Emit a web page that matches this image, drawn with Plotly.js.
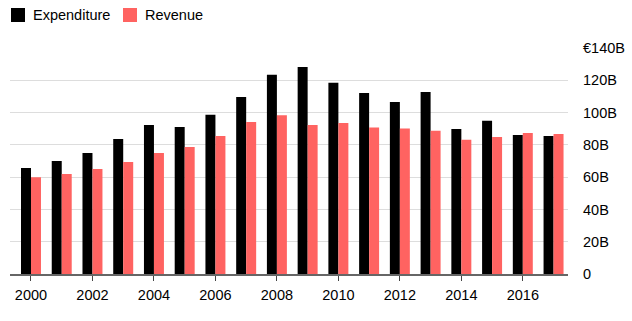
<!DOCTYPE html>
<html>
<head>
<meta charset="utf-8">
<script src="https://cdn.plot.ly/plotly-3.0.1.min.js"></script>
<style>html,body{margin:0;padding:0;background:#fff;}#chart{width:632px;height:321px;}</style>
</head>
<body>
<div id="chart"></div>
<script>
const years = [2000,2001,2002,2003,2004,2005,2006,2007,2008,2009,2010,2011,2012,2013,2014,2015,2016,2017];
const expenditure = [65.6,70.0,75.0,83.7,92.3,91.1,98.6,109.7,123.4,128.2,118.4,112.2,106.6,112.8,89.9,95.0,86.1,85.5];
const revenue = [60.0,61.9,65.0,69.4,75.0,78.7,85.5,94.2,98.3,92.3,93.6,90.7,90.1,88.8,83.2,84.9,87.4,86.8];
const yTickVals = [0,20,40,60,80,100,120,140];
const yTickText = ["0","20B","40B","60B","80B","100B","120B","€140B"];
const xTickVals = [2000,2002,2004,2006,2008,2010,2012,2014,2016];
const seriesNames = ["Expenditure","Revenue"];
const seriesColors = ["#000000","#ff6361"];

const W = 632, H = 321;
const M = {l:10, r:64, t:48, b:47};
const pw = W - M.l - M.r, ph = H - M.t - M.b;
const px2x = p => (p - M.l) / pw;
const py2y = p => (H - M.b - p) / ph;

const traces = [
  {type:'bar', name:seriesNames[0], x:years, y:expenditure, marker:{color:seriesColors[0]}},
  {type:'bar', name:seriesNames[1], x:years, y:revenue, marker:{color:seriesColors[1]}}
];

// custom legend (square swatches + labels) in the top margin
const legendX = [11, 123];
const shapes = [], annotations = [];
seriesNames.forEach((n, i) => {
  shapes.push({type:'rect', xref:'paper', yref:'paper', x0:px2x(legendX[i]), x1:px2x(legendX[i]+14),
               y0:py2y(22), y1:py2y(8), fillcolor:seriesColors[i], line:{width:0}});
  annotations.push({xref:'paper', yref:'paper', x:px2x(legendX[i]+20), y:py2y(15), xanchor:'left', yanchor:'middle',
                    text:n, showarrow:false, font:{size:14.5, color:'#000'}});
});

const layout = {
  width:W, height:H,
  margin:{l:M.l, r:M.r, t:M.t, b:M.b, pad:0},
  paper_bgcolor:'#fff', plot_bgcolor:'#fff',
  font:{family:'Liberation Sans, Arial, sans-serif', size:14.5, color:'#000'},
  barmode:'group', bargap:0.35, bargroupgap:0,
  showlegend:false,
  shapes:shapes, annotations:annotations,
  xaxis:{range:[1999.317,2017.47], tickvals:xTickVals, ticks:'outside', ticklen:5, tickcolor:'#444', tickwidth:1,
         ticklabelstandoff:2, tickfont:{size:14.5},
         showline:true, linecolor:'#666', linewidth:1.5, showgrid:false, zeroline:false, fixedrange:true},
  yaxis:{range:[0,140], side:'right', tickvals:yTickVals, ticktext:yTickText, showgrid:true, gridcolor:'#dddddd', gridwidth:1,
         tickfont:{size:14.5}, zeroline:false, ticks:'', ticklabelstandoff:14, showline:false, fixedrange:true}
};
Plotly.newPlot('chart', traces, layout, {displayModeBar:false, staticPlot:true});
</script>
</body>
</html>
